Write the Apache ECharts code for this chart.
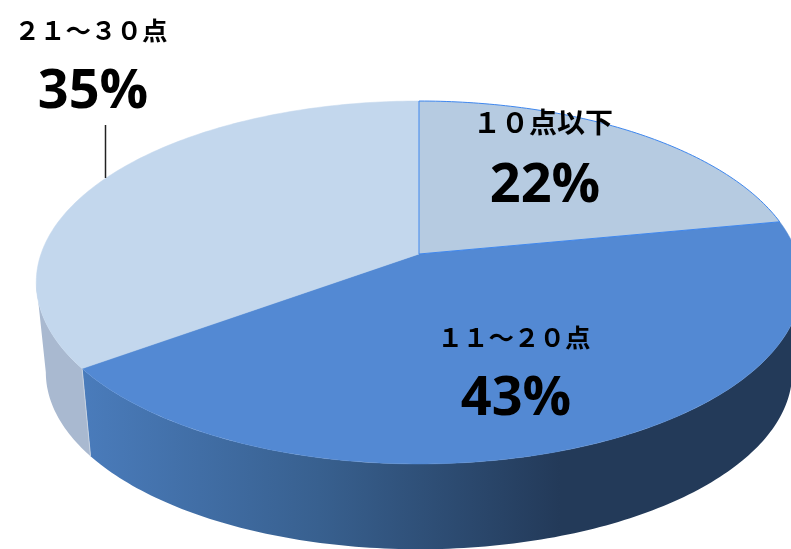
<!DOCTYPE html>
<html>
<head>
<meta charset="utf-8">
<style>
  html, body { margin: 0; padding: 0; background: #fff; }
  #chart { width: 791px; height: 549px; }
</style>
<script src="https://cdn.jsdelivr.net/npm/echarts@6/dist/echarts.min.js"></script>
</head>
<body>
<div id="chart"></div>
<script>
// 点数分布
const categories = ['１０点以下', '１１～２０点', '２１～３０点']
const percents = [22, 43, 35]

const topColors = ['#b6cbe1', '#5389d3', '#c3d7ed']
const edgeColor = '#3f87ee'

// 楕円の投影パラメータ
const centerX = 419
const topApexY = 254
const radiusX = 378
const radiusY = 177
const perspective = 0.157
const bottomApexY = 344.5
const bottomScale = 0.975

// ラベル位置 (カテゴリ順)
const nameCenters = [[543, 122], [514, 337], [91, 30]]
const valueCenters = [[545, 187], [516, 400], [93, 93]]
const nameSizes = [28, 25.5, 25.5]

const chart = echarts.init(document.getElementById('chart'))

const total = percents.reduce((a, b) => a + b, 0)

// 手前側の側面が見える角度の範囲
const frontStart = Math.acos(-perspective)
const frontEnd = Math.PI * 2 - frontStart

function rimPoint(angle, apexY, scale) {
  const u = Math.sin(angle)
  const v = -Math.cos(angle)
  const w = 1 - perspective * v
  return [centerX + (scale * radiusX * u) / w, apexY + (scale * radiusY * v) / w]
}

function sliceAngles(index) {
  let before = 0
  for (let i = 0; i < index; i++) before += percents[i]
  const start = (before / total) * Math.PI * 2
  return [start, start + (percents[index] / total) * Math.PI * 2]
}

function arcBetween(start, end, apexY, scale) {
  const steps = Math.ceil((end - start) * 60)
  const points = []
  for (let i = 0; i <= steps; i++) {
    points.push(rimPoint(start + ((end - start) * i) / steps, apexY, scale))
  }
  return points
}

function wallFill(index) {
  if (index === 1) {
    return new echarts.graphic.LinearGradient(79, 0, 560, 0, [
      { offset: 0, color: '#4a7cbc' },
      { offset: 0.5, color: '#38608f' },
      { offset: 1, color: '#233a59' },
    ], true)
  }
  return '#a9b9d0'
}

const sliceData = percents.map((p, i) => [i, p])

const option = {
  animation: false,
  backgroundColor: '#fff',
  series: [
    {
      // 側面
      type: 'custom',
      coordinateSystem: 'none',
      silent: true,
      data: sliceData,
      renderItem: (params, api) => {
        const index = api.value(0)
        const [start, end] = sliceAngles(index)
        const from = Math.max(start, frontStart)
        const to = Math.min(end, frontEnd)
        if (to <= from) return null
        const upper = arcBetween(from, to, topApexY, 1)
        const lower = arcBetween(from, to, bottomApexY, bottomScale).reverse()
        const children = [
          {
            type: 'polygon',
            shape: { points: upper.concat(lower) },
            style: { fill: wallFill(index) },
          },
        ]
        if (index === 2) {
          // 側面の境目
          const a = rimPoint(start, topApexY, 1)
          const b = rimPoint(start, bottomApexY, bottomScale)
          children.push({
            type: 'line',
            shape: { x1: a[0], y1: a[1], x2: b[0], y2: b[1] },
            style: { stroke: '#c6d2e2', lineWidth: 1 },
          })
        }
        return { type: 'group', children }
      },
    },
    {
      // 上面
      type: 'custom',
      coordinateSystem: 'none',
      silent: true,
      data: sliceData,
      renderItem: (params, api) => {
        const index = api.value(0)
        const [start, end] = sliceAngles(index)
        const points = [[centerX, topApexY]].concat(arcBetween(start, end, topApexY, 1))
        return {
          type: 'polygon',
          z2: index === 0 ? 10 : 1,
          shape: { points },
          style: {
            fill: topColors[index],
            stroke: index === 0 ? edgeColor : topColors[index],
            lineWidth: index === 0 ? 1 : 0.5,
          },
        }
      },
    },
    {
      // ラベル
      type: 'custom',
      coordinateSystem: 'none',
      silent: true,
      z: 5,
      data: sliceData,
      renderItem: (params, api) => {
        const index = api.value(0)
        const children = [
          {
            type: 'text',
            style: {
              x: nameCenters[index][0],
              y: nameCenters[index][1],
              text: categories[index],
              align: 'center',
              verticalAlign: 'middle',
              fill: '#000',
              font: '700 ' + nameSizes[index] + 'px "Noto Sans CJK JP"',
            },
          },
          {
            type: 'text',
            style: {
              x: valueCenters[index][0],
              y: valueCenters[index][1],
              text: api.value(1) + '%',
              align: 'center',
              verticalAlign: 'middle',
              fill: '#000',
              font: '700 54px "Open Sans"',
            },
          },
        ]
        if (index === 2) {
          // 引き出し線
          children.push({
            type: 'line',
            shape: { x1: 105.5, y1: 125, x2: 105.5, y2: 178 },
            style: { stroke: '#222', lineWidth: 1.5 },
          })
        }
        return { type: 'group', children }
      },
    },
  ],
}

chart.setOption(option)

window.addEventListener('resize', () => chart.resize())
</script>
</body>
</html>
